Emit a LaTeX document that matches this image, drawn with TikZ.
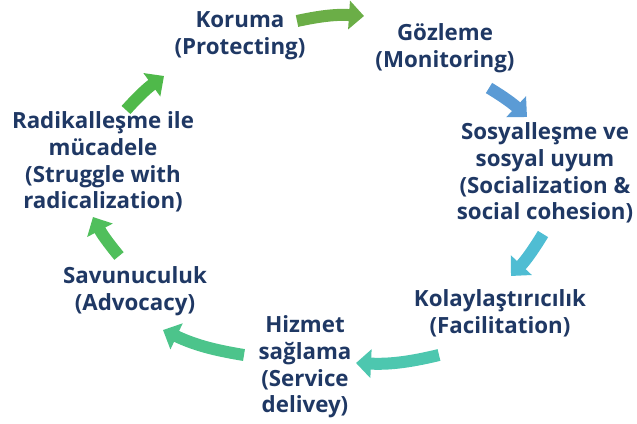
\documentclass[tikz,border=0pt]{standalone}
\usepackage{fontspec}
\setmainfont{Open Sans}
\usetikzlibrary{arrows.meta}

\definecolor{navy}{HTML}{1F3864}
\definecolor{green1}{HTML}{6BAE47}
\definecolor{blue1}{HTML}{5B9BD5}
\definecolor{cyan1}{HTML}{4FBDD3}
\definecolor{teal1}{HTML}{4DC7AF}
\definecolor{green2}{HTML}{4CC48B}
\definecolor{green3}{HTML}{50BF5C}
\definecolor{green4}{HTML}{4FB94A}

\begin{document}
\begin{tikzpicture} [x=1pt,y=-1pt,
		stage/.style={align=center,text=navy,font=\bfseries\fontsize{22.3}{26.6}\selectfont,inner sep=0pt},
		cycle arrow/.style={line width=12pt,-{Triangle[length=15pt,width=28pt]}}]

	\useasboundingbox (0,0) rectangle (637,423);

	\node [stage] (koruma) at (240,36) {Koruma\\(Protecting)};
	\node [stage] (gozleme) at (445,48) {Gözleme\\(Monitoring)};
	\node [stage] (sosyal) at (545,173) {Sosyalleşme ve\\sosyal uyum\\(Socialization \&\\social cohesion)};
	\node [stage] (kolay) at (500,313) {Kolaylaştırıcılık\\(Facilitation)};
	\node [stage] (hizmet) at (305,367) {Hizmet\\sağlama\\(Service\\delivey)};
	\node [stage] (savunu) at (135,291) {Savunuculuk\\(Advocacy)};
	\node [stage] (radikal) at (103,162) {Radikalleşme ile\\mücadele\\(Struggle with\\radicalization)};

	% arrow ends
	\coordinate (a1s) at (297,21);  \coordinate (a1e) at (364,16);
	\coordinate (a2s) at (489,88);  \coordinate (a2e) at (527,117);
	\coordinate (a3s) at (543,234); \coordinate (a3e) at (511,276);
	\coordinate (a4s) at (439,355); \coordinate (a4e) at (356,363);
	\coordinate (a5s) at (244,355); \coordinate (a5e) at (163,330);
	\coordinate (a6s) at (119,256); \coordinate (a6e) at (93,217);
	\coordinate (a7s) at (126,110); \coordinate (a7e) at (164,76);

	\draw [cycle arrow,green1] (a1s) to[bend left=8] (a1e);
	\draw [cycle arrow,blue1] (a2s) to[bend left=6] (a2e);
	\draw [cycle arrow,cyan1] (a3s) to[bend left=6] (a3e);
	\draw [cycle arrow,teal1] (a4s) to[bend left=8] (a4e);
	\draw [cycle arrow,green2] (a5s) to[bend left=8] (a5e);
	\draw [cycle arrow,green3] (a6s) to[bend left=6] (a6e);
	\draw [cycle arrow,green4] (a7s) to[bend left=6] (a7e);
\end{tikzpicture}
\end{document}
